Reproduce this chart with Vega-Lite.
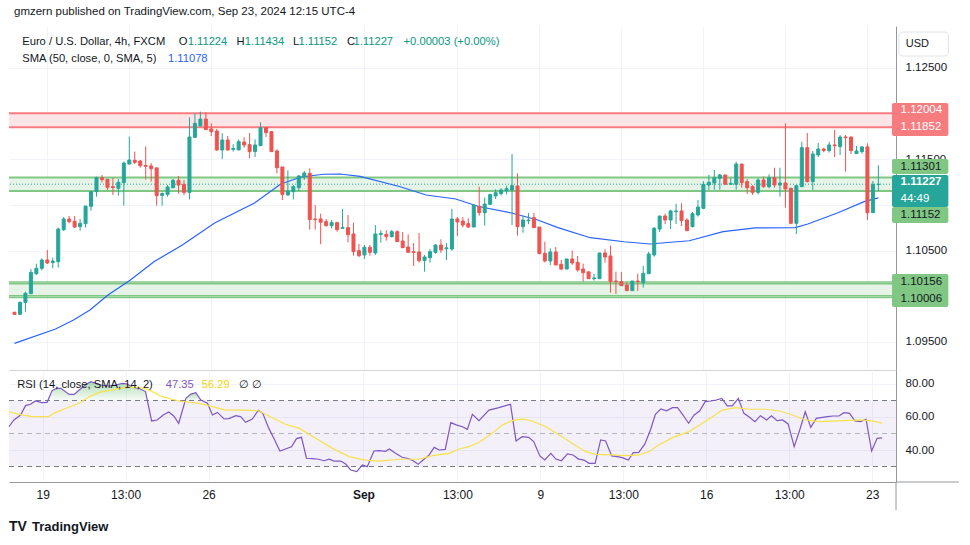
{
"$schema": "https://vega.github.io/schema/vega-lite/v6.json",
"padding": {"left": 6, "top": 6, "right": 10, "bottom": 8},
"background": "#ffffff",
"config": {"view": {"stroke": null}, "font": "Liberation Sans"},
"spacing": 0,
"bounds": "flush",
"resolve": {"scale": {"x": "independent", "y": "independent"}},
"datasets": {
"candles": [
{"i":0,"o":1.09824,"h":1.09830,"l":1.09795,"c":1.09802},{"i":1,"o":1.09802,"h":1.09941,"l":1.09802,"c":1.09933},{"i":2,"o":1.09933,"h":1.10050,"l":1.09831,"c":1.10032},{"i":3,"o":1.10028,"h":1.10298,"l":1.10028,"c":1.10262},{"i":4,"o":1.10247,"h":1.10357,"l":1.10233,"c":1.10306},{"i":5,"o":1.10306,"h":1.10415,"l":1.10284,"c":1.10397},{"i":6,"o":1.10397,"h":1.10507,"l":1.10353,"c":1.10364},{"i":7,"o":1.10368,"h":1.10423,"l":1.10306,"c":1.10386},{"i":8,"o":1.10379,"h":1.10751,"l":1.10313,"c":1.10736},{"i":9,"o":1.10729,"h":1.10868,"l":1.10715,"c":1.10846},
{"i":10,"o":1.10846,"h":1.10879,"l":1.10799,"c":1.10817},{"i":11,"o":1.10821,"h":1.10879,"l":1.10747,"c":1.10758},{"i":12,"o":1.10762,"h":1.10846,"l":1.10718,"c":1.10799},{"i":13,"o":1.10795,"h":1.10988,"l":1.10751,"c":1.10988},{"i":14,"o":1.10985,"h":1.11153,"l":1.10937,"c":1.11145},{"i":15,"o":1.11145,"h":1.11310,"l":1.11091,"c":1.11299},{"i":16,"o":1.11299,"h":1.11328,"l":1.11244,"c":1.11277},{"i":17,"o":1.11281,"h":1.11284,"l":1.11164,"c":1.11193},{"i":18,"o":1.11200,"h":1.11299,"l":1.11109,"c":1.11190},{"i":19,"o":1.11182,"h":1.11284,"l":1.11102,"c":1.11248},
{"i":20,"o":1.11244,"h":1.11474,"l":1.10992,"c":1.11459},{"i":21,"o":1.11448,"h":1.11748,"l":1.11445,"c":1.11492},{"i":22,"o":1.11489,"h":1.11584,"l":1.11448,"c":1.11467},{"i":23,"o":1.11481,"h":1.11492,"l":1.11408,"c":1.11430},{"i":24,"o":1.11432,"h":1.11642,"l":1.11277,"c":1.11423},{"i":25,"o":1.11427,"h":1.11459,"l":1.11255,"c":1.11397},{"i":26,"o":1.11405,"h":1.11416,"l":1.10992,"c":1.11102},{"i":27,"o":1.11105,"h":1.11138,"l":1.10992,"c":1.11124},{"i":28,"o":1.11116,"h":1.11218,"l":1.11091,"c":1.11197},{"i":29,"o":1.11189,"h":1.11284,"l":1.11182,"c":1.11270},
{"i":30,"o":1.11270,"h":1.11317,"l":1.11124,"c":1.11218},{"i":31,"o":1.11226,"h":1.11273,"l":1.11109,"c":1.11138},{"i":32,"o":1.11138,"h":1.11960,"l":1.11061,"c":1.11744},{"i":33,"o":1.11741,"h":1.12003,"l":1.11741,"c":1.11894},{"i":34,"o":1.11865,"h":1.12022,"l":1.11865,"c":1.11941},{"i":35,"o":1.11941,"h":1.12014,"l":1.11825,"c":1.11825},{"i":36,"o":1.11832,"h":1.11894,"l":1.11755,"c":1.11803},{"i":37,"o":1.11810,"h":1.11832,"l":1.11591,"c":1.11602},{"i":38,"o":1.11602,"h":1.11784,"l":1.11503,"c":1.11711},{"i":39,"o":1.11711,"h":1.11755,"l":1.11595,"c":1.11602},
{"i":40,"o":1.11609,"h":1.11664,"l":1.11584,"c":1.11618},{"i":41,"o":1.11602,"h":1.11715,"l":1.11602,"c":1.11693},{"i":42,"o":1.11689,"h":1.11741,"l":1.11627,"c":1.11657},{"i":43,"o":1.11660,"h":1.11788,"l":1.11511,"c":1.11584},{"i":44,"o":1.11584,"h":1.11719,"l":1.11525,"c":1.11657},{"i":45,"o":1.11649,"h":1.11905,"l":1.11649,"c":1.11846},{"i":46,"o":1.11846,"h":1.11854,"l":1.11744,"c":1.11792},{"i":47,"o":1.11803,"h":1.11803,"l":1.11584,"c":1.11584},{"i":48,"o":1.11591,"h":1.11609,"l":1.11346,"c":1.11408},{"i":49,"o":1.11416,"h":1.11416,"l":1.11054,"c":1.11116},
{"i":50,"o":1.11109,"h":1.11379,"l":1.11102,"c":1.11153},{"i":51,"o":1.11145,"h":1.11218,"l":1.11061,"c":1.11200},{"i":52,"o":1.11189,"h":1.11328,"l":1.11153,"c":1.11317},{"i":53,"o":1.11310,"h":1.11372,"l":1.11273,"c":1.11350},{"i":54,"o":1.11346,"h":1.11401,"l":1.10729,"c":1.10839},{"i":55,"o":1.10846,"h":1.10999,"l":1.10729,"c":1.10839},{"i":56,"o":1.10846,"h":1.10905,"l":1.10569,"c":1.10810},{"i":57,"o":1.10817,"h":1.10846,"l":1.10762,"c":1.10773},{"i":58,"o":1.10773,"h":1.10835,"l":1.10744,"c":1.10806},{"i":59,"o":1.10806,"h":1.10817,"l":1.10707,"c":1.10729},
{"i":60,"o":1.10744,"h":1.10956,"l":1.10740,"c":1.10754},{"i":61,"o":1.10751,"h":1.10890,"l":1.10590,"c":1.10674},{"i":62,"o":1.10682,"h":1.10806,"l":1.10444,"c":1.10488},{"i":63,"o":1.10499,"h":1.10572,"l":1.10430,"c":1.10444},{"i":64,"o":1.10452,"h":1.10561,"l":1.10408,"c":1.10536},{"i":65,"o":1.10536,"h":1.10561,"l":1.10444,"c":1.10481},{"i":66,"o":1.10474,"h":1.10780,"l":1.10452,"c":1.10682},{"i":67,"o":1.10678,"h":1.10722,"l":1.10587,"c":1.10688},{"i":68,"o":1.10678,"h":1.10722,"l":1.10609,"c":1.10653},{"i":69,"o":1.10653,"h":1.10726,"l":1.10645,"c":1.10707},
{"i":70,"o":1.10707,"h":1.10722,"l":1.10598,"c":1.10598},{"i":71,"o":1.10605,"h":1.10704,"l":1.10532,"c":1.10532},{"i":72,"o":1.10539,"h":1.10678,"l":1.10477,"c":1.10481},{"i":73,"o":1.10488,"h":1.10583,"l":1.10331,"c":1.10479},{"i":74,"o":1.10485,"h":1.10693,"l":1.10368,"c":1.10390},{"i":75,"o":1.10390,"h":1.10452,"l":1.10269,"c":1.10430},{"i":76,"o":1.10423,"h":1.10517,"l":1.10368,"c":1.10488},{"i":77,"o":1.10481,"h":1.10569,"l":1.10466,"c":1.10561},{"i":78,"o":1.10561,"h":1.10623,"l":1.10474,"c":1.10507},{"i":79,"o":1.10520,"h":1.10583,"l":1.10397,"c":1.10530},
{"i":80,"o":1.10517,"h":1.10956,"l":1.10499,"c":1.10846},{"i":81,"o":1.10846,"h":1.10868,"l":1.10660,"c":1.10813},{"i":82,"o":1.10824,"h":1.10868,"l":1.10755,"c":1.10780},{"i":83,"o":1.10795,"h":1.10853,"l":1.10751,"c":1.10758},{"i":84,"o":1.10758,"h":1.11007,"l":1.10758,"c":1.10999},{"i":85,"o":1.10985,"h":1.11200,"l":1.10883,"c":1.10915},{"i":86,"o":1.10915,"h":1.11083,"l":1.10773,"c":1.11010},{"i":87,"o":1.11007,"h":1.11124,"l":1.10999,"c":1.11113},{"i":88,"o":1.11098,"h":1.11171,"l":1.11065,"c":1.11134},{"i":89,"o":1.11124,"h":1.11182,"l":1.11102,"c":1.11164},
{"i":90,"o":1.11156,"h":1.11211,"l":1.11116,"c":1.11178},{"i":91,"o":1.11164,"h":1.11558,"l":1.10780,"c":1.11211},{"i":92,"o":1.11208,"h":1.11346,"l":1.10664,"c":1.10762},{"i":93,"o":1.10762,"h":1.10883,"l":1.10696,"c":1.10835},{"i":94,"o":1.10828,"h":1.10912,"l":1.10791,"c":1.10835},{"i":95,"o":1.10861,"h":1.10915,"l":1.10751,"c":1.10751},{"i":96,"o":1.10758,"h":1.10758,"l":1.10466,"c":1.10466},{"i":97,"o":1.10470,"h":1.10598,"l":1.10371,"c":1.10386},{"i":98,"o":1.10386,"h":1.10525,"l":1.10342,"c":1.10485},{"i":99,"o":1.10485,"h":1.10539,"l":1.10342,"c":1.10342},
{"i":100,"o":1.10350,"h":1.10397,"l":1.10284,"c":1.10298},{"i":101,"o":1.10298,"h":1.10408,"l":1.10298,"c":1.10408},{"i":102,"o":1.10408,"h":1.10499,"l":1.10342,"c":1.10364},{"i":103,"o":1.10371,"h":1.10441,"l":1.10269,"c":1.10288},{"i":104,"o":1.10298,"h":1.10357,"l":1.10160,"c":1.10258},{"i":105,"o":1.10266,"h":1.10277,"l":1.10192,"c":1.10192},{"i":106,"o":1.10192,"h":1.10244,"l":1.10171,"c":1.10200},{"i":107,"o":1.10192,"h":1.10474,"l":1.10192,"c":1.10474},{"i":108,"o":1.10474,"h":1.10517,"l":1.10368,"c":1.10430},{"i":109,"o":1.10441,"h":1.10554,"l":1.10039,"c":1.10160},
{"i":110,"o":1.10167,"h":1.10269,"l":1.10025,"c":1.10160},{"i":111,"o":1.10160,"h":1.10266,"l":1.10116,"c":1.10116},{"i":112,"o":1.10123,"h":1.10152,"l":1.10061,"c":1.10061},{"i":113,"o":1.10061,"h":1.10167,"l":1.10061,"c":1.10167},{"i":114,"o":1.10167,"h":1.10247,"l":1.10057,"c":1.10160},{"i":115,"o":1.10149,"h":1.10331,"l":1.10094,"c":1.10251},{"i":116,"o":1.10247,"h":1.10488,"l":1.10247,"c":1.10463},{"i":117,"o":1.10452,"h":1.10758,"l":1.10433,"c":1.10744},{"i":118,"o":1.10736,"h":1.10879,"l":1.10704,"c":1.10879},{"i":119,"o":1.10879,"h":1.10905,"l":1.10791,"c":1.10835},
{"i":120,"o":1.10835,"h":1.10948,"l":1.10736,"c":1.10934},{"i":121,"o":1.10926,"h":1.11014,"l":1.10791,"c":1.10934},{"i":122,"o":1.10934,"h":1.11018,"l":1.10769,"c":1.10828},{"i":123,"o":1.10835,"h":1.10853,"l":1.10715,"c":1.10718},{"i":124,"o":1.10762,"h":1.10923,"l":1.10755,"c":1.10905},{"i":125,"o":1.10890,"h":1.11054,"l":1.10872,"c":1.10977},{"i":126,"o":1.10963,"h":1.11259,"l":1.10956,"c":1.11226},{"i":127,"o":1.11218,"h":1.11328,"l":1.11164,"c":1.11248},{"i":128,"o":1.11240,"h":1.11383,"l":1.11167,"c":1.11299},{"i":129,"o":1.11291,"h":1.11339,"l":1.11167,"c":1.11328},
{"i":130,"o":1.11328,"h":1.11328,"l":1.11226,"c":1.11226},{"i":131,"o":1.11226,"h":1.11295,"l":1.11218,"c":1.11237},{"i":132,"o":1.11226,"h":1.11474,"l":1.11167,"c":1.11448},{"i":133,"o":1.11448,"h":1.11448,"l":1.11189,"c":1.11244},{"i":134,"o":1.11255,"h":1.11284,"l":1.11120,"c":1.11189},{"i":135,"o":1.11200,"h":1.11218,"l":1.11109,"c":1.11138},{"i":136,"o":1.11138,"h":1.11291,"l":1.11116,"c":1.11273},{"i":137,"o":1.11273,"h":1.11310,"l":1.11189,"c":1.11200},{"i":138,"o":1.11200,"h":1.11335,"l":1.11182,"c":1.11299},{"i":139,"o":1.11299,"h":1.11408,"l":1.11189,"c":1.11218},
{"i":140,"o":1.11218,"h":1.11408,"l":1.11091,"c":1.11240},{"i":141,"o":1.11240,"h":1.11894,"l":1.10970,"c":1.11175},{"i":142,"o":1.11182,"h":1.11189,"l":1.10788,"c":1.10799},{"i":143,"o":1.10799,"h":1.11218,"l":1.10682,"c":1.11211},{"i":144,"o":1.11200,"h":1.11693,"l":1.11200,"c":1.11627},{"i":145,"o":1.11627,"h":1.11788,"l":1.11248,"c":1.11255},{"i":146,"o":1.11255,"h":1.11591,"l":1.11164,"c":1.11558},{"i":147,"o":1.11547,"h":1.11678,"l":1.11525,"c":1.11613},{"i":148,"o":1.11613,"h":1.11627,"l":1.11576,"c":1.11595},{"i":149,"o":1.11595,"h":1.11693,"l":1.11573,"c":1.11657},
{"i":150,"o":1.11657,"h":1.11821,"l":1.11525,"c":1.11649},{"i":151,"o":1.11638,"h":1.11766,"l":1.11547,"c":1.11744},{"i":152,"o":1.11744,"h":1.11766,"l":1.11365,"c":1.11737},{"i":153,"o":1.11744,"h":1.11744,"l":1.11558,"c":1.11595},{"i":154,"o":1.11562,"h":1.11646,"l":1.11562,"c":1.11591},{"i":155,"o":1.11584,"h":1.11646,"l":1.11562,"c":1.11635},{"i":156,"o":1.11635,"h":1.11675,"l":1.10835,"c":1.10915},{"i":157,"o":1.10915,"h":1.11262,"l":1.10915,"c":1.11226},{"i":158,"o":1.11224,"h":1.11434,"l":1.11152,"c":1.11227}
],
"sma": [
{"i":0,"v":1.09483},{"i":7.5,"v":1.09641},{"i":10.8,"v":1.0974},{"i":13.8,"v":1.09849},{"i":17.1,"v":1.10014},{"i":21.2,"v":1.10178},{"i":25.5,"v":1.10378},{"i":30.7,"v":1.10561},{"i":36.6,"v":1.10802},{"i":43.9,"v":1.11021},{"i":48.7,"v":1.11229},{"i":52.4,"v":1.11306},{"i":56.5,"v":1.11336},{"i":59.6,"v":1.11339},{"i":63.2,"v":1.11312},{"i":70.4,"v":1.11202},{"i":75.3,"v":1.11109},{"i":80.7,"v":1.11065},{"i":84.9,"v":1.10983},{"i":90.9,"v":1.10912},{"i":95.7,"v":1.10835},{"i":99.4,"v":1.10751},{"i":105.3,"v":1.10641},{"i":111.5,"v":1.10597},{"i":116.2,"v":1.10572},{"i":123.4,"v":1.10608},{"i":129.6,"v":1.10707},{"i":135.5,"v":1.10748},{"i":142.8,"v":1.10751},{"i":145.1,"v":1.10791},{"i":150.5,"v":1.10912},{"i":155.4,"v":1.11036},{"i":158,"v":1.11078}
],
"rsi": [
{"i":-0.1,"v":54.1},{"i":0.8,"v":58.2},{"i":2.0,"v":61.2},{"i":2.9,"v":66.9},{"i":3.8,"v":67.7},{"i":4.7,"v":69.7},{"i":5.8,"v":68.7},{"i":6.8,"v":68.9},{"i":7.7,"v":76.0},{"i":8.5,"v":77.4},{"i":9.3,"v":77.4},{"i":10.8,"v":73.7},{"i":11.7,"v":73.7},{"i":12.6,"v":76.4},{"i":13.9,"v":79.8},{"i":14.7,"v":81.4},{"i":15.6,"v":80.4},{"i":16.5,"v":79.4},{"i":18.0,"v":78.8},{"i":19.2,"v":79.4},{"i":20.4,"v":80.4},{"i":21.3,"v":80.0},{"i":22.2,"v":78.0},{"i":23.4,"v":77.4},{"i":24.6,"v":75.4},{"i":25.7,"v":57.6},{"i":26.7,"v":58.2},{"i":27.8,"v":61.2},{"i":28.8,"v":63.0},{"i":29.7,"v":60.6},{"i":30.6,"v":56.2},{"i":31.9,"v":71.3},{"i":32.8,"v":73.9},{"i":33.7,"v":74.7},{"i":34.6,"v":70.3},{"i":35.8,"v":68.3},{"i":36.7,"v":61.2},{"i":37.6,"v":62.8},{"i":38.8,"v":58.8},{"i":39.7,"v":59.0},{"i":40.9,"v":60.8},{"i":41.8,"v":60.2},{"i":42.7,"v":56.8},{"i":43.9,"v":58.8},{"i":45.0,"v":64.0},{"i":45.8,"v":62.2},{"i":46.9,"v":53.1},{"i":47.8,"v":47.1},{"i":48.9,"v":39.4},{"i":49.9,"v":40.6},{"i":51.0,"v":42.0},{"i":51.9,"v":46.9},{"i":52.8,"v":47.7},{"i":53.7,"v":35.0},{"i":54.8,"v":34.8},{"i":55.9,"v":34.4},{"i":56.9,"v":33.5},{"i":57.8,"v":34.4},{"i":58.7,"v":33.3},{"i":59.9,"v":33.3},{"i":60.8,"v":31.5},{"i":61.7,"v":27.9},{"i":62.8,"v":26.9},{"i":63.8,"v":30.9},{"i":64.7,"v":29.9},{"i":65.9,"v":39.4},{"i":66.9,"v":39.6},{"i":68.0,"v":39.2},{"i":68.7,"v":40.6},{"i":69.8,"v":38.0},{"i":71.0,"v":35.6},{"i":71.9,"v":35.0},{"i":72.8,"v":33.9},{"i":73.9,"v":31.3},{"i":74.8,"v":33.9},{"i":75.9,"v":37.0},{"i":76.8,"v":41.6},{"i":77.7,"v":40.0},{"i":78.8,"v":40.4},{"i":79.8,"v":56.6},{"i":80.8,"v":55.2},{"i":81.9,"v":54.1},{"i":82.8,"v":52.5},{"i":83.7,"v":61.6},{"i":84.9,"v":57.8},{"i":86.7,"v":64.2},{"i":88.5,"v":65.7},{"i":90.6,"v":67.7},{"i":91.6,"v":45.5},{"i":92.7,"v":48.1},{"i":93.9,"v":47.7},{"i":94.8,"v":45.1},{"i":95.9,"v":36.4},{"i":96.8,"v":34.0},{"i":97.9,"v":38.0},{"i":98.8,"v":34.5},{"i":99.8,"v":33.5},{"i":100.9,"v":37.6},{"i":101.9,"v":37.0},{"i":102.9,"v":34.5},{"i":103.9,"v":33.9},{"i":104.8,"v":31.9},{"i":105.9,"v":31.9},{"i":106.9,"v":46.1},{"i":107.8,"v":45.5},{"i":108.9,"v":36.4},{"i":109.9,"v":36.0},{"i":110.8,"v":35.4},{"i":111.9,"v":33.9},{"i":112.8,"v":38.4},{"i":113.8,"v":38.6},{"i":114.9,"v":43.7},{"i":115.9,"v":52.1},{"i":116.8,"v":61.6},{"i":117.8,"v":64.9},{"i":118.8,"v":63.8},{"i":119.9,"v":65.7},{"i":120.8,"v":65.7},{"i":121.8,"v":61.2},{"i":122.8,"v":56.2},{"i":123.8,"v":61.2},{"i":124.8,"v":63.6},{"i":125.8,"v":69.3},{"i":126.8,"v":69.7},{"i":127.8,"v":70.3},{"i":128.8,"v":71.3},{"i":129.8,"v":66.7},{"i":130.7,"v":66.7},{"i":131.8,"v":71.3},{"i":132.8,"v":62.2},{"i":133.7,"v":60.2},{"i":134.8,"v":57.2},{"i":135.8,"v":60.8},{"i":136.9,"v":58.2},{"i":137.8,"v":60.8},{"i":138.8,"v":57.8},{"i":139.8,"v":58.2},{"i":140.8,"v":55.8},{"i":141.9,"v":42.0},{"i":142.9,"v":52.1},{"i":143.9,"v":63.2},{"i":144.9,"v":53.7},{"i":145.9,"v":59.2},{"i":147.0,"v":59.8},{"i":147.9,"v":60.2},{"i":148.9,"v":60.6},{"i":150.0,"v":60.6},{"i":150.9,"v":62.6},{"i":151.9,"v":62.2},{"i":152.9,"v":57.6},{"i":153.9,"v":57.2},{"i":154.9,"v":58.6},{"i":155.9,"v":39.4},{"i":156.9,"v":47.1},{"i":157.8,"v":47.35}
],
"rsima": [
{"i":-0.1,"v":63.2},{"i":1.7,"v":61.6},{"i":4.1,"v":60.2},{"i":7.1,"v":60.2},{"i":8.0,"v":62.2},{"i":10.2,"v":65.3},{"i":12.6,"v":68.3},{"i":14.4,"v":72.3},{"i":16.2,"v":74.9},{"i":18.6,"v":76.4},{"i":21.0,"v":78.0},{"i":23.4,"v":78.0},{"i":25.2,"v":76.4},{"i":27.6,"v":72.3},{"i":30.6,"v":69.7},{"i":34.3,"v":68.3},{"i":36.7,"v":66.3},{"i":39.1,"v":64.2},{"i":42.1,"v":64.2},{"i":45.1,"v":63.8},{"i":46.9,"v":60.6},{"i":49.9,"v":55.6},{"i":52.4,"v":53.1},{"i":55.4,"v":47.1},{"i":58.4,"v":41.0},{"i":61.4,"v":36.0},{"i":64.4,"v":33.9},{"i":66.8,"v":33.3},{"i":70.4,"v":34.4},{"i":74.0,"v":34.4},{"i":76.5,"v":36.6},{"i":79.5,"v":38.0},{"i":81.3,"v":40.6},{"i":83.1,"v":42.0},{"i":84.9,"v":44.7},{"i":87.3,"v":50.1},{"i":89.1,"v":55.2},{"i":90.9,"v":57.8},{"i":92.7,"v":58.8},{"i":94.5,"v":57.6},{"i":97.0,"v":54.1},{"i":99.4,"v":49.1},{"i":101.8,"v":44.0},{"i":104.2,"v":39.0},{"i":106.0,"v":37.4},{"i":109.0,"v":37.0},{"i":111.4,"v":36.6},{"i":113.8,"v":37.0},{"i":115.6,"v":39.0},{"i":117.4,"v":43.0},{"i":119.9,"v":47.5},{"i":122.9,"v":51.1},{"i":125.3,"v":56.2},{"i":127.1,"v":60.2},{"i":128.9,"v":64.2},{"i":131.3,"v":65.7},{"i":133.7,"v":64.7},{"i":136.7,"v":64.7},{"i":139.1,"v":63.8},{"i":141.6,"v":61.2},{"i":144.0,"v":58.2},{"i":146.4,"v":57.2},{"i":150.0,"v":57.6},{"i":153.6,"v":58.2},{"i":156.0,"v":57.6},{"i":157.8,"v":56.29}
],
"ob": [
{"s":1,"i":7.1,"v":70},{"s":1,"i":7.7,"v":76.0},{"s":1,"i":8.5,"v":77.4},{"s":1,"i":9.3,"v":77.4},{"s":1,"i":10.8,"v":73.7},{"s":1,"i":11.7,"v":73.7},{"s":1,"i":12.6,"v":76.4},{"s":1,"i":13.9,"v":79.8},{"s":1,"i":14.7,"v":81.4},{"s":1,"i":15.6,"v":80.4},{"s":1,"i":16.5,"v":79.4},{"s":1,"i":18.0,"v":78.8},{"s":1,"i":19.2,"v":79.4},{"s":1,"i":20.4,"v":80.4},{"s":1,"i":21.3,"v":80.0},{"s":1,"i":22.2,"v":78.0},{"s":1,"i":23.4,"v":77.4},{"s":1,"i":24.6,"v":75.4},{"s":1,"i":24.75,"v":70},
{"s":2,"i":31.85,"v":70},{"s":2,"i":31.9,"v":71.3},{"s":2,"i":32.8,"v":73.9},{"s":2,"i":33.7,"v":74.7},{"s":2,"i":34.6,"v":70.3},{"s":2,"i":34.65,"v":70}
],
"zones": [
{"top":1.12004,"bot":1.11852,"t":"r"},{"top":1.11301,"bot":1.11152,"t":"g"},{"top":1.10156,"bot":1.09986,"t":"g"}
],
"levels": [
{"p":1.12004,"t":"r"},{"p":1.11852,"t":"r"},{"p":1.11301,"t":"g"},{"p":1.11152,"t":"g"},{"p":1.10156,"t":"g2"},{"p":1.10136,"t":"g2"},{"p":1.10006,"t":"g2"},{"p":1.09986,"t":"g2"}
]
},
"vconcat": [
{
"width": 887, "height": 344,
"layer": [
{"data":{"name":"zones"},"mark":{"type":"rect"},"encoding":{"y":{"field":"top","type":"quantitative","scale":{"domain":[1.09192,1.1296],"nice":false,"zero":false}},"y2":{"field":"bot"},"color":{"condition":{"test":"datum.t=='r'","value":"#fde4e6"},"value":"#e6f4e7"}}},
{"data":{"name":"levels"},"mark":{"type":"rule"},"encoding":{"y":{"field":"p","type":"quantitative","scale":{"domain":[1.09192,1.1296],"nice":false,"zero":false}},"color":{"condition":{"test":"datum.t=='r'","value":"#f77c80"},"value":"#81c784"},"strokeWidth":{"condition":{"test":"datum.t=='g2'","value":1.4},"value":2}}},
{"data":{"values":[{}]},"mark":{"type":"rule","strokeDash":[1,2],"color":"#26a69a","strokeWidth":1},"encoding":{"y":{"datum":1.11227}}},
{"data":{"name":"sma"},"mark":{"type":"line","color":"#2962ff","strokeWidth":1.2},"encoding":{"x":{"field":"i","type":"quantitative","scale":{"domain":[-0.09,160.31],"nice":false,"zero":false}},"y":{"field":"v","type":"quantitative","scale":{"domain":[1.09192,1.1296],"nice":false,"zero":false}}}},
{"data":{"name":"candles"},"mark":{"type":"rule","strokeWidth":1},"encoding":{
 "x":{"field":"i","type":"quantitative","scale":{"domain":[-0.09,160.31],"nice":false,"zero":false},"axis":{"values":[6,21,36,64,81,96,111,126,141,156],"labels":false,"ticks":false,"domain":true,"domainColor":"#d1d4dc","grid":true,"gridColor":"#f0f3fa","title":null}},
 "y":{"field":"l","type":"quantitative","scale":{"domain":[1.09192,1.1296],"nice":false,"zero":false},"axis":{"orient":"right","values":[1.095,1.1,1.105,1.11,1.115,1.12,1.125],"labelExpr":"round(datum.value*1000)%10==5 ? format(datum.value,'.5f') : ''","ticks":false,"domain":true,"domainColor":"#9598a1","grid":true,"gridColor":"#f0f3fa","labelPadding":9,"labelFontSize":11.5,"labelColor":"#131722","labelFont":"Liberation Sans","title":null}},
 "y2":{"field":"h"},
 "color":{"condition":{"test":"datum.c >= datum.o","value":"#26a69a"},"value":"#ef5350"}}},
{"data":{"name":"candles"},"mark":{"type":"bar","size":3,"strokeWidth":1},"encoding":{
 "x":{"field":"i","type":"quantitative","scale":{"domain":[-0.09,160.31],"nice":false,"zero":false}},
 "y":{"field":"o","type":"quantitative","scale":{"domain":[1.09192,1.1296],"nice":false,"zero":false}},
 "y2":{"field":"c"},
 "color":{"condition":{"test":"datum.c >= datum.o","value":"#26a69a"},"value":"#ef5350"},
 "stroke":{"condition":{"test":"datum.c >= datum.o","value":"#26a69a"},"value":"#ef5350"}}},
{"data":{"values":[{}]},"mark":{"type":"text","align":"left","baseline":"middle","fontSize":11.5,"color":"#131722","text":"gmzern published on TradingView.com, Sep 23, 2024 12:15 UTC-4"},"encoding":{"x":{"datum":-0.09},"y":{"datum":1.13113}}},
{"data":{"values":[{}]},"mark":{"type":"text","align":"left","baseline":"middle","fontSize":11.2,"color":"#131722","text":"Euro / U.S. Dollar, 4h, FXCM"},"encoding":{"x":{"datum":1.41},"y":{"datum":1.12785}}},
{"data":{"values":[{}]},"mark":{"type":"text","align":"left","baseline":"middle","fontSize":11.2,"color":"#131722","text":"O"},"encoding":{"x":{"datum":30.05},"y":{"datum":1.12785}}},
{"data":{"values":[{}]},"mark":{"type":"text","align":"left","baseline":"middle","fontSize":11.2,"color":"#089981","text":"1.11224"},"encoding":{"x":{"datum":31.68},"y":{"datum":1.12785}}},
{"data":{"values":[{}]},"mark":{"type":"text","align":"left","baseline":"middle","fontSize":11.2,"color":"#131722","text":"H"},"encoding":{"x":{"datum":40.6},"y":{"datum":1.12785}}},
{"data":{"values":[{}]},"mark":{"type":"text","align":"left","baseline":"middle","fontSize":11.2,"color":"#089981","text":"1.11434"},"encoding":{"x":{"datum":42.1},"y":{"datum":1.12785}}},
{"data":{"values":[{}]},"mark":{"type":"text","align":"left","baseline":"middle","fontSize":11.2,"color":"#131722","text":"L"},"encoding":{"x":{"datum":50.96},"y":{"datum":1.12785}}},
{"data":{"values":[{}]},"mark":{"type":"text","align":"left","baseline":"middle","fontSize":11.2,"color":"#089981","text":"1.11152"},"encoding":{"x":{"datum":51.93},"y":{"datum":1.12785}}},
{"data":{"values":[{}]},"mark":{"type":"text","align":"left","baseline":"middle","fontSize":11.2,"color":"#131722","text":"C"},"encoding":{"x":{"datum":60.8},"y":{"datum":1.12785}}},
{"data":{"values":[{}]},"mark":{"type":"text","align":"left","baseline":"middle","fontSize":11.2,"color":"#089981","text":"1.11227"},"encoding":{"x":{"datum":62.0},"y":{"datum":1.12785}}},
{"data":{"values":[{}]},"mark":{"type":"text","align":"left","baseline":"middle","fontSize":11.2,"color":"#089981","text":"+0.00003 (+0.00%)"},"encoding":{"x":{"datum":71.16},"y":{"datum":1.12785}}},
{"data":{"values":[{}]},"mark":{"type":"text","align":"left","baseline":"middle","fontSize":11.2,"color":"#131722","text":"SMA (50, close, 0, SMA, 5)"},"encoding":{"x":{"datum":1.41},"y":{"datum":1.12595}}},
{"data":{"values":[{}]},"mark":{"type":"text","align":"left","baseline":"middle","fontSize":11.2,"color":"#2962ff","text":"1.11078"},"encoding":{"x":{"datum":28.07},"y":{"datum":1.12595}}},
{"data":{"values":[{}]},"mark":{"type":"rect","fill":"#ffffff","stroke":"#e0e3eb","strokeWidth":1,"cornerRadius":4},"encoding":{"x":{"datum":161.75},"x2":{"datum":170.8},"y":{"datum":1.12894},"y2":{"datum":1.12631}}},
{"data":{"values":[{}]},"mark":{"type":"text","align":"left","baseline":"middle","fontSize":11,"color":"#131722","text":"USD"},"encoding":{"x":{"datum":163.0},"y":{"datum":1.12763}}},
{"data":{"values":[{}]},"mark":{"type":"rect","color":"#f77c80","cornerRadius":2},"encoding":{"x":{"datum":160.49},"x2":{"datum":170.8},"y":{"datum":1.12117},"y2":{"datum":1.11755}}},
{"data":{"values":[{}]},"mark":{"type":"rect","color":"#81c784","cornerRadius":2},"encoding":{"x":{"datum":160.49},"x2":{"datum":170.8},"y":{"datum":1.11503},"y2":{"datum":1.11339}}},
{"data":{"values":[{}]},"mark":{"type":"rect","color":"#26a69a","cornerRadius":2},"encoding":{"x":{"datum":160.49},"x2":{"datum":170.8},"y":{"datum":1.11328},"y2":{"datum":1.10978}}},
{"data":{"values":[{}]},"mark":{"type":"rect","color":"#81c784","cornerRadius":2},"encoding":{"x":{"datum":160.49},"x2":{"datum":170.8},"y":{"datum":1.10978},"y2":{"datum":1.10802}}},
{"data":{"values":[{}]},"mark":{"type":"rect","color":"#81c784","cornerRadius":2},"encoding":{"x":{"datum":160.49},"x2":{"datum":170.8},"y":{"datum":1.10244},"y2":{"datum":1.09882}}},
{"data":{"values":[{}]},"mark":{"type":"text","align":"left","baseline":"middle","fontSize":11.5,"color":"#ffffff","text":"1.12004"},"encoding":{"x":{"datum":162.06},"y":{"datum":1.1204}}},
{"data":{"values":[{}]},"mark":{"type":"text","align":"left","baseline":"middle","fontSize":11.5,"color":"#ffffff","text":"1.11852"},"encoding":{"x":{"datum":162.06},"y":{"datum":1.11854}}},
{"data":{"values":[{}]},"mark":{"type":"text","align":"left","baseline":"middle","fontSize":11.5,"color":"#131722","text":"1.11301"},"encoding":{"x":{"datum":162.06},"y":{"datum":1.11416}}},
{"data":{"values":[{}]},"mark":{"type":"text","align":"left","baseline":"middle","fontSize":11.5,"color":"#ffffff","fontWeight":"bold","text":"1.11227"},"encoding":{"x":{"datum":162.06},"y":{"datum":1.11251}}},
{"data":{"values":[{}]},"mark":{"type":"text","align":"left","baseline":"middle","fontSize":11.5,"color":"#ffffff","text":"44:49"},"encoding":{"x":{"datum":162.06},"y":{"datum":1.11065}}},
{"data":{"values":[{}]},"mark":{"type":"text","align":"left","baseline":"middle","fontSize":11.5,"color":"#131722","text":"1.11152"},"encoding":{"x":{"datum":162.06},"y":{"datum":1.1089}}},
{"data":{"values":[{}]},"mark":{"type":"text","align":"left","baseline":"middle","fontSize":11.5,"color":"#131722","text":"1.10156"},"encoding":{"x":{"datum":162.06},"y":{"datum":1.10156}}},
{"data":{"values":[{}]},"mark":{"type":"text","align":"left","baseline":"middle","fontSize":11.5,"color":"#131722","text":"1.10006"},"encoding":{"x":{"datum":162.06},"y":{"datum":1.0997}}}
]
},
{
"width": 887, "height": 112,
"layer": [
{"data":{"values":[{}]},"mark":{"type":"rect","color":"#7e57c2","opacity":0.09},"encoding":{"y":{"datum":70},"y2":{"datum":30}}},
{"data":{"values":[{}]},"mark":{"type":"rule","color":"#787b86","strokeDash":[5,4],"strokeWidth":1},"encoding":{"y":{"datum":70}}},
{"data":{"values":[{}]},"mark":{"type":"rule","color":"#787b86","strokeDash":[5,4],"strokeWidth":1},"encoding":{"y":{"datum":30}}},
{"data":{"values":[{}]},"mark":{"type":"rule","color":"#b2b5be","strokeDash":[5,4],"strokeWidth":1},"encoding":{"y":{"datum":50}}},
{"data":{"name":"ob"},"mark":{"type":"area","fill":{"gradient":"linear","x1":0,"y1":0,"x2":0,"y2":1,"stops":[{"offset":0,"color":"rgba(76,175,80,0.45)"},{"offset":1,"color":"rgba(76,175,80,0.03)"}]}},"encoding":{"x":{"field":"i","type":"quantitative","scale":{"domain":[-0.09,160.31],"nice":false,"zero":false}},"y":{"field":"v","type":"quantitative","scale":{"domain":[20.61,88.48],"nice":false,"zero":false}},"y2":{"datum":70},"detail":{"field":"s"}}},
{"data":{"name":"rsi"},"mark":{"type":"line","color":"#7e57c2","strokeWidth":1.2},"encoding":{
 "x":{"field":"i","type":"quantitative","scale":{"domain":[-0.09,160.31],"nice":false,"zero":false},"axis":{"values":[6,21,36,64,81,96,111,126,141,156],"labelExpr":"datum.value==6?'19':datum.value==36?'26':datum.value==64?'Sep':datum.value==96?'9':datum.value==126?'16':datum.value==156?'23':'13:00'","labelFontWeight":{"condition":{"test":"datum.value==64","value":"bold"},"value":"normal"},"ticks":false,"domain":true,"domainColor":"#9598a1","grid":true,"gridColor":"#f0f3fa","labelPadding":7,"labelFontSize":12,"labelColor":"#131722","labelFont":"Liberation Sans","labelFlush":false,"labelOverlap":false,"title":null}},
 "y":{"field":"v","type":"quantitative","scale":{"domain":[20.61,88.48],"nice":false,"zero":false},"axis":{"orient":"right","values":[40,60,80],"format":".2f","ticks":false,"domain":true,"domainColor":"#9598a1","grid":true,"gridColor":"#f0f3fa","labelPadding":9,"labelFontSize":11.5,"labelColor":"#131722","labelFont":"Liberation Sans","title":null}}}},
{"data":{"name":"rsima"},"mark":{"type":"line","color":"#f7e24a","strokeWidth":1.2},"encoding":{"x":{"field":"i","type":"quantitative","scale":{"domain":[-0.09,160.31],"nice":false,"zero":false}},"y":{"field":"v","type":"quantitative","scale":{"domain":[20.61,88.48],"nice":false,"zero":false}}}},
{"data":{"values":[{}]},"mark":{"type":"text","align":"left","baseline":"middle","fontSize":11.2,"color":"#131722","text":"RSI (14, close, SMA, 14, 2)"},"encoding":{"x":{"datum":1.41},"y":{"datum":79.4}}},
{"data":{"values":[{}]},"mark":{"type":"text","align":"left","baseline":"middle","fontSize":11.2,"color":"#7e57c2","text":"47.35"},"encoding":{"x":{"datum":28.25},"y":{"datum":79.4}}},
{"data":{"values":[{}]},"mark":{"type":"text","align":"left","baseline":"middle","fontSize":11.2,"color":"#f5d50a","text":"56.29"},"encoding":{"x":{"datum":34.76},"y":{"datum":79.4}}},
{"data":{"values":[{}]},"mark":{"type":"text","align":"left","baseline":"middle","fontSize":11.2,"color":"#131722","text":"∅  ∅"},"encoding":{"x":{"datum":41.5},"y":{"datum":79.4}}},
{"data":{"values":[{}]},"mark":{"type":"rule","color":"#9598a1","strokeWidth":1},"encoding":{"x":{"datum":160.31},"x2":{"datum":171.7},"y":{"datum":20.61}}},
{"data":{"values":[{}]},"mark":{"type":"rule","color":"#9598a1","strokeWidth":1},"encoding":{"x":{"datum":160.31},"y":{"datum":20.61},"y2":{"datum":3.64}}},
{"data":{"values":[{}]},"mark":{"type":"text","align":"left","baseline":"middle","fontSize":14,"fontWeight":"bold","color":"#131722","text":"TV"},"encoding":{"x":{"datum":-0.09},"y":{"datum":-6.67}}},
{"data":{"values":[{}]},"mark":{"type":"text","align":"left","baseline":"middle","fontSize":13,"fontWeight":"bold","color":"#131722","text":"TradingView"},"encoding":{"x":{"datum":4.07},"y":{"datum":-6.67}}}
]
}
]
}
